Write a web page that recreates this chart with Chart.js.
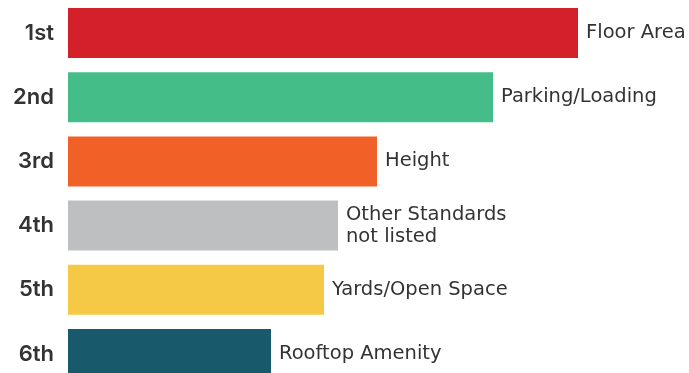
<!DOCTYPE html>
<html>
<head>
<meta charset="utf-8">
<script src="https://cdn.jsdelivr.net/npm/chart.js@4/dist/chart.umd.min.js"></script>
<style>
  html, body { margin: 0; padding: 0; background: #fff; overflow: hidden; }
  canvas { display: block; }
</style>
</head>
<body>
<canvas id="rankChart" width="689" height="386"></canvas>
<script>
const ranks = ["1st", "2nd", "3rd", "4th", "5th", "6th"];
const standards = [["Floor Area"], ["Parking/Loading"], ["Height"], ["Other Standards", "not listed"], ["Yards/Open Space"], ["Rooftop Amenity"]];
const scores = [5.10, 4.25, 3.09, 2.70, 2.56, 2.03];
const barColors = ["#D4202A", "#44BD88", "#F16127", "#BEBFC1", "#F5C845", "#185A6C"];

// write the standard's name just past the end of each bar
const endLabels = {
  id: "endLabels",
  afterDatasetsDraw(chart) {
    const ctx = chart.ctx;
    const meta = chart.getDatasetMeta(0);
    ctx.save();
    ctx.font = "19.5px 'DejaVu Sans'";
    ctx.fillStyle = "#333333";
    ctx.textAlign = "left";
    ctx.textBaseline = "middle";
    meta.data.forEach((bar, i) => {
      const lines = standards[i];
      const lh = 22;
      const top = bar.y - (lines.length - 1) * lh / 2;
      lines.forEach((t, j) => ctx.fillText(t, bar.x + 8, top + j * lh));
    });
    ctx.restore();
  }
};

new Chart(document.getElementById("rankChart"), {
  type: "bar",
  data: {
    labels: ranks,
    datasets: [{
      data: scores,
      backgroundColor: barColors,
      borderWidth: 0,
      barPercentage: 0.78,
      categoryPercentage: 1
    }]
  },
  options: {
    indexAxis: "y",
    responsive: false,
    animation: false,
    layout: { padding: { top: 1, right: 0, bottom: 0, left: 0 } },
    plugins: { legend: { display: false }, tooltip: { enabled: false } },
    scales: {
      x: { display: false, min: 0, max: 6.21 },
      y: {
        grid: { display: false },
        border: { display: false },
        ticks: {
          color: "#333333",
          padding: 6,
          font: { family: "Inter", size: 22, weight: "600" }
        },
        afterFit(scale) {
          scale.width = 68;
          scale.paddingTop = 0;
          scale.paddingBottom = 0;
        }
      }
    }
  },
  plugins: [endLabels]
});
</script>
</body>
</html>
